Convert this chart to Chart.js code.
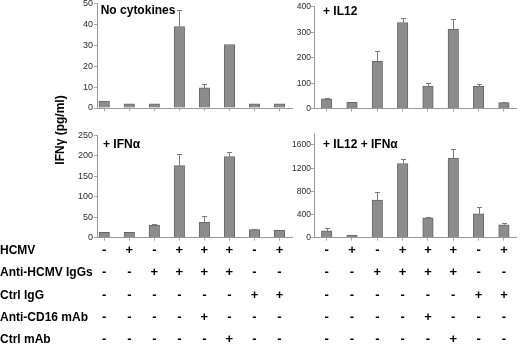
<!DOCTYPE html>
<html><head><meta charset="utf-8">
<script src="https://cdn.jsdelivr.net/npm/chart.js@4.4.1/dist/chart.umd.min.js"></script>
<style>
html,body{margin:0;padding:0;background:#fff;}
#wrap{position:relative;width:520px;height:345px;overflow:hidden;background:#fff;}
.pane{position:absolute;left:0;top:0;width:520px;height:345px;}
</style></head><body>
<div id="wrap">
<div class="pane"><canvas id="c1"></canvas></div>
<div class="pane"><canvas id="c2"></canvas></div>
<div class="pane"><canvas id="c3"></canvas></div>
<div class="pane"><canvas id="c4"></canvas></div>
</div>
<script>
// ---- data ----
const conditions = [1, 2, 3, 4, 5, 6, 7, 8];
const rowLabels = ['HCMV', 'Anti-HCMV IgGs', 'Ctrl IgG', 'Anti-CD16 mAb', 'Ctrl mAb'];
const hcmv         = ['-', '+', '-', '+', '+', '+', '-', '+'];
const antiHcmvIgGs = ['-', '-', '+', '+', '+', '+', '-', '-'];
const ctrlIgG      = ['-', '-', '-', '-', '-', '-', '+', '+'];
const antiCD16mAb  = ['-', '-', '-', '-', '+', '-', '-', '-'];
const ctrlMAb      = ['-', '-', '-', '-', '-', '+', '-', '-'];
const panelTitles = ['No cytokines', '+ IL12', '+ IFN\u03b1', '+ IL12 + IFN\u03b1'];
const yTitle = 'IFN\u03b3 (pg/ml)';

const noCytokines    = [3.3, 2, 2, 39, 9.6, 30.4, 2, 2];
const noCytokinesErr = [0, 0, 0, 7.8, 1.8, 0, 0, 0];
const il12           = [39, 25, 186, 338, 89, 312, 88, 24];
const il12Err        = [3, 0, 40, 18, 11, 40, 8, 3];
const ifna           = [13, 13, 31, 176, 37.5, 198, 19.6, 18];
const ifnaErr        = [0, 0, 3, 29, 15.5, 11, 1.5, 0];
const il12Ifna       = [118, 45, 650, 1280, 343, 1372, 412, 223];
const il12IfnaErr    = [58, 0, 133, 85, 17, 155, 120, 27];

const ticksNoCyt   = [0, 10, 20, 30, 40, 50];
const ticksIL12    = [0, 100, 200, 300, 400];
const ticksIFNa    = [0, 50, 100, 150, 200, 250];
const ticksIL12IFNa = [0, 400, 800, 1200, 1600];

// ---- drawing ----
const FONT = "'Liberation Sans', Arial, sans-serif";
Chart.defaults.font.family = FONT;
const boundaries = conditions.slice(0, -1).map(c => c + 0.5);
const signRows = [hcmv, antiHcmvIgGs, ctrlIgG, antiCD16mAb, ctrlMAb];
const rowCenters = [249.3, 271.8, 294.3, 316.3, 338.8];

function makeChart(id, values, errors, yTicks, yMax, xMin, xMax, area, title, titlePos, tickSize, tickPad, extra) {
  const W = 40, H = 3;
  const pad = {left: area.left - W, top: area.top, right: 520 - area.right, bottom: 345 - area.bottom - H};
  return new Chart(document.getElementById(id), {
    type: 'bar',
    data: {
      datasets: [{
        data: values.map((v, i) => ({x: conditions[i], y: v})),
        backgroundColor: '#8c8c8c',
        borderColor: '#676767',
        borderWidth: 1,
        barThickness: 10.5
      }]
    },
    options: {
      responsive: true, maintainAspectRatio: false, animation: false,
      events: [],
      layout: {padding: pad},
      plugins: {legend: {display: false}, tooltip: {enabled: false}},
      scales: {
        x: {
          type: 'linear', min: xMin, max: xMax, offset: false,
          afterBuildTicks: s => { s.ticks = boundaries.map(v => ({value: v})); },
          afterFit: s => { s.height = H; s.paddingLeft = 0; s.paddingRight = 0; },
          ticks: {display: false},
          grid: {drawOnChartArea: false, drawTicks: true, tickLength: 3, color: '#a8a8a8'},
          border: {color: '#9a9a9a'}
        },
        y: {
          min: 0, max: yMax,
          afterBuildTicks: s => { s.ticks = yTicks.map(v => ({value: v})); },
          afterFit: s => { s.width = W; s.paddingTop = 0; s.paddingBottom = 0; },
          ticks: {font: {size: tickSize}, color: '#2a2a2a', padding: tickPad, callback: v => String(v)},
          grid: {drawOnChartArea: false, tickLength: 3, color: '#a8a8a8'},
          border: {color: '#9a9a9a'}
        }
      }
    },
    plugins: [{
      id: 'extras',
      afterDatasetsDraw(chart) {
        const ctx = chart.ctx, ys = chart.scales.y;
        const meta = chart.getDatasetMeta(0);
        ctx.save();
        ctx.strokeStyle = '#7a7a7a';
        ctx.lineWidth = 1;
        meta.data.forEach((bar, i) => {
          const e = errors[i];
          if (!e) return;
          const x = Math.round(bar.x) + 0.5;
          const y0 = bar.y;
          const y1 = Math.round(ys.getPixelForValue(values[i] + e)) + 0.5;
          ctx.beginPath();
          ctx.moveTo(x, y0); ctx.lineTo(x, y1);
          ctx.moveTo(x - 2.5, y1); ctx.lineTo(x + 2.5, y1);
          ctx.stroke();
        });
        ctx.fillStyle = '#000';
        ctx.font = 'bold 12px ' + FONT;
        ctx.textAlign = 'left';
        ctx.textBaseline = 'alphabetic';
        ctx.fillText(title, chart.chartArea.left + titlePos[0], titlePos[1]);
        if (extra) extra(chart, ctx);
        ctx.restore();
      }
    }]
  });
}

function drawSigns(chart, ctx) {
  const xs = chart.scales.x;
  ctx.font = 'bold 13px ' + FONT;
  ctx.textAlign = 'center';
  ctx.fillStyle = '#000';
  signRows.forEach((row, r) => {
    row.forEach((s, i) => {
      ctx.fillText(s, xs.getPixelForValue(conditions[i]), rowCenters[r] + 4.5);
    });
  });
}

makeChart('c1', noCytokines, noCytokinesErr, ticksNoCyt, 50, 0.71, 8.5,
  {left: 97, right: 292, top: 3.5, bottom: 108}, panelTitles[0], [3.7, 14], 9, 1,
  (chart, ctx) => {
    ctx.save();
    ctx.translate(61, 130);
    ctx.rotate(-Math.PI / 2);
    ctx.font = 'bold 12px ' + FONT;
    ctx.textAlign = 'center';
    ctx.textBaseline = 'middle';
    ctx.fillText(yTitle, 0, 0);
    ctx.restore();
  });
makeChart('c2', il12, il12Err, ticksIL12, 400, 0.5, 8.5,
  {left: 314, right: 516.6, top: 6.7, bottom: 108.7}, panelTitles[1], [9, 15], 8.5, 0, null);
makeChart('c3', ifna, ifnaErr, ticksIFNa, 250, 0.71, 8.5,
  {left: 97, right: 292, top: 135.3, bottom: 237.7}, panelTitles[2], [6, 147.5], 9, 1,
  (chart, ctx) => {
    ctx.font = 'bold 12px ' + FONT;
    ctx.textAlign = 'left';
    ctx.fillStyle = '#000';
    rowLabels.forEach((t, r) => ctx.fillText(t, 0, rowCenters[r] + 4.3));
    drawSigns(chart, ctx);
  });
makeChart('c4', il12Ifna, il12IfnaErr, ticksIL12IFNa, 1800, 0.5, 8.5,
  {left: 314, right: 516.6, top: 133.4, bottom: 237.7}, panelTitles[3], [9, 147.5], 8.5, 0,
  drawSigns);
</script>
</body></html>
